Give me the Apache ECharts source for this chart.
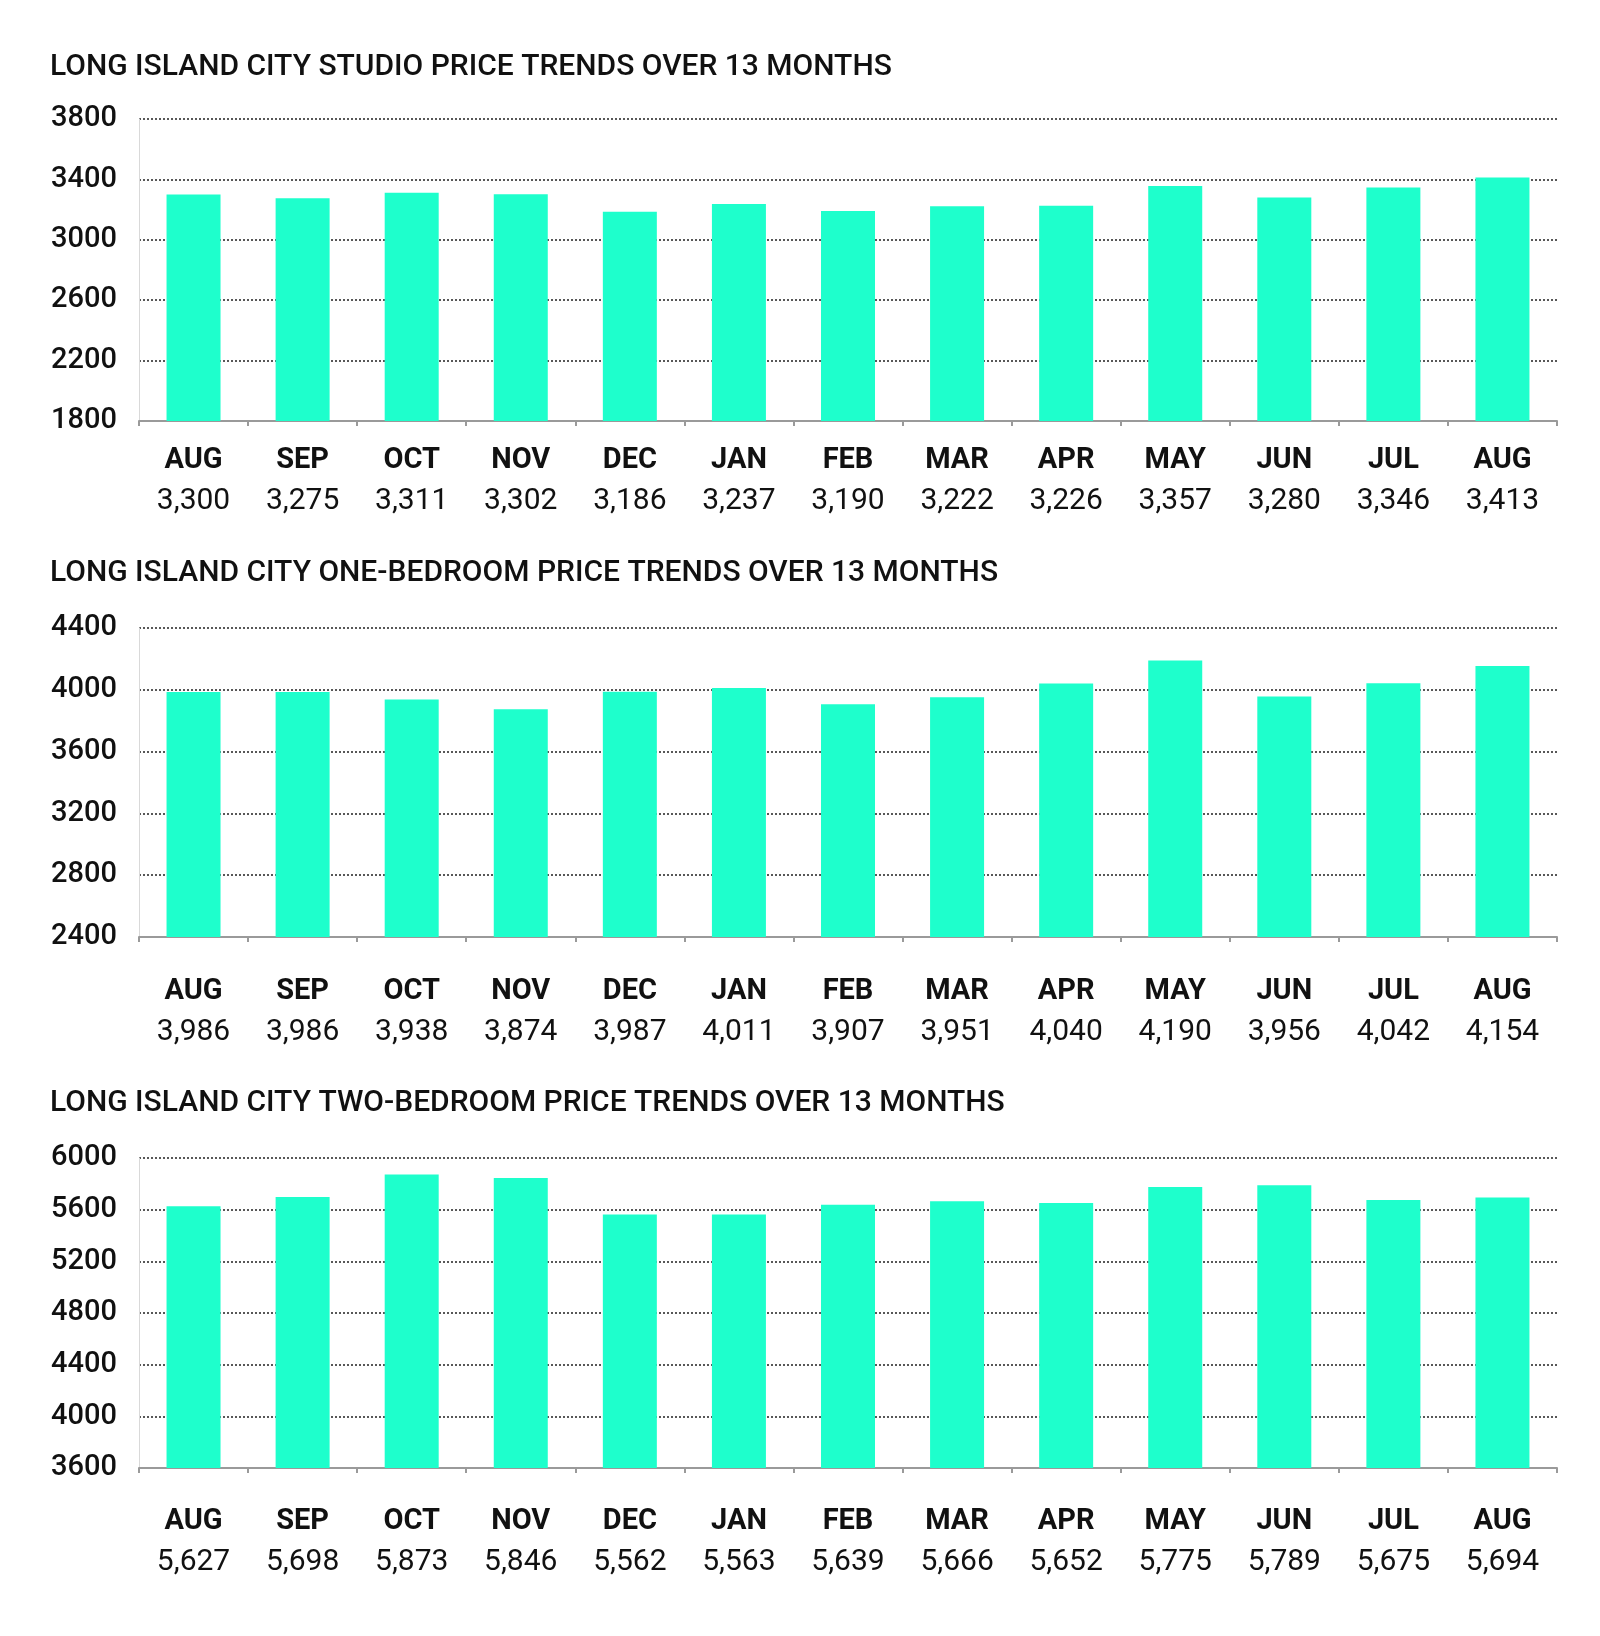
<!DOCTYPE html>
<html>
<head>
<meta charset="utf-8">
<script src="https://cdn.jsdelivr.net/npm/echarts@6/dist/echarts.min.js"></script>
<style>
html,body{margin:0;padding:0;background:#fff;}
#main{width:1600px;height:1636px;}
</style>
</head>
<body>
<div id="main"></div>
<script>
const months = ['AUG','SEP','OCT','NOV','DEC','JAN','FEB','MAR','APR','MAY','JUN','JUL','AUG'];
const studioValues = [3300,3275,3311,3302,3186,3237,3190,3222,3226,3357,3280,3346,3413];
const oneBedValues = [3986,3986,3938,3874,3987,4011,3907,3951,4040,4190,3956,4042,4154];
const twoBedValues = [5627,5698,5873,5846,5562,5563,5639,5666,5652,5775,5789,5675,5694];
const titles = [
  'LONG ISLAND CITY STUDIO PRICE TRENDS OVER 13 MONTHS',
  'LONG ISLAND CITY ONE-BEDROOM PRICE TRENDS OVER 13 MONTHS',
  'LONG ISLAND CITY TWO-BEDROOM PRICE TRENDS OVER 13 MONTHS'
];
const yRanges = [[1800,3800],[2400,4400],[3600,6000]];
const yInterval = 400;

const FONT = 'Roboto, "Liberation Sans", sans-serif';
const seriesData = [studioValues, oneBedValues, twoBedValues];
const gridTops = [119, 628, 1158];
const gridHeights = [302, 309, 310];
const titleTops = [52, 558, 1088];
const labelMargins = [19, 34, 33];

const chart = echarts.init(document.getElementById('main'), null, {renderer:'canvas'});
const fmt = v => v.toLocaleString('en-US');

const option = {
  backgroundColor: '#fff',
  animation: false,
  title: titles.map((t,i)=>({
    text: t, left: 50, top: titleTops[i], padding: 0,
    textStyle: {fontFamily: FONT, fontSize: 30, fontWeight: 500, color: '#111'}
  })),
  grid: gridTops.map((t,i)=>({left:139, right:43, top:t, height:gridHeights[i], containLabel:false})),
  xAxis: seriesData.map((vals,i)=>({
    type:'category', gridIndex:i, data: months,
    axisLine:{show:true, lineStyle:{color:'#9a9a9a', width:2}},
    axisTick:{show:true, length:5, lineStyle:{color:'#9a9a9a', width:2}},
    axisLabel:{
      margin: labelMargins[i], interval: 0,
      formatter: (v, idx) => '{m|' + v + '}\n{v|' + fmt(vals[idx]) + '}',
      rich:{
        m:{fontFamily:FONT, fontSize:29, fontWeight:'bold', color:'#111', lineHeight:41},
        v:{fontFamily:FONT, fontSize:30, fontWeight:'normal', color:'#111', lineHeight:41}
      }
    }
  })),
  yAxis: yRanges.map((r,i)=>({
    type:'value', gridIndex:i, min:r[0], max:r[1], interval:yInterval,
    axisLine:{show:true, lineStyle:{color:'#d9d9d9', width:1}},
    axisTick:{show:false},
    splitLine:{show:true, lineStyle:{color:'#222', type:[2,2], width:1.5}},
    axisLabel:{margin:22, fontFamily:FONT, fontSize:29, fontWeight:500, color:'#111', formatter: v => String(v)}
  })),
  series: seriesData.map((vals,i)=>({
    type:'bar', xAxisIndex:i, yAxisIndex:i, data: vals,
    barWidth: 54, itemStyle:{color:'#1effcc'}, z: 3
  }))
};
chart.setOption(option);
</script>
</body>
</html>
